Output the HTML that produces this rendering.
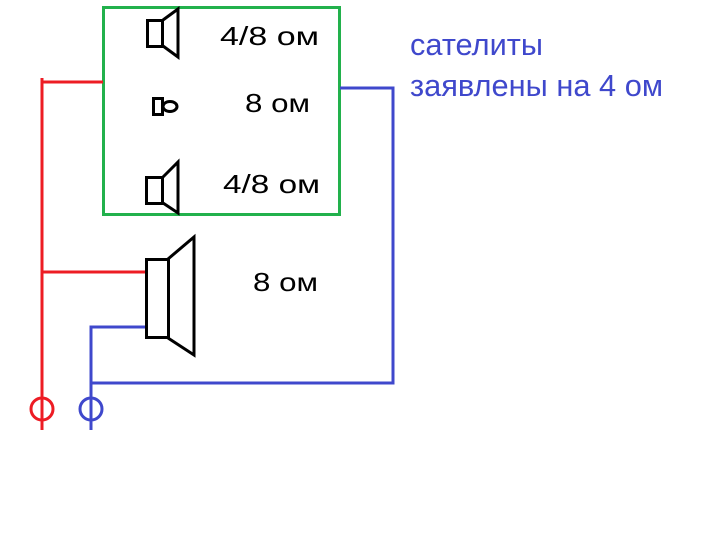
<!DOCTYPE html>
<html><head><meta charset="utf-8"><style>
html,body{margin:0;padding:0;background:#fff;}
svg{display:block;}
</style></head><body>
<svg width="713" height="542" viewBox="0 0 713 542" xmlns="http://www.w3.org/2000/svg">
<rect width="713" height="542" fill="#fff"/>
<!-- green box -->
<rect x="103.5" y="7.5" width="236" height="207" fill="none" stroke="#22B14C" stroke-width="3"/>
<!-- red wires -->
<g stroke="#ED1C24" stroke-width="3" fill="none">
<polyline points="42,78 42,430"/>
<polyline points="42,82 103,82"/>
<polyline points="42,272 146,272"/>
<circle cx="42" cy="409" r="11"/>
</g>
<!-- blue wires -->
<g stroke="#3F48CC" stroke-width="3" fill="none">
<polyline points="340,88 393,88 393,383 91,383"/>
<polyline points="146,327 91,327 91,430"/>
<circle cx="91" cy="409" r="11"/>
</g>
<!-- speakers -->
<g stroke="#000" stroke-width="3" fill="none" stroke-linejoin="miter">
<rect x="147.5" y="20.5" width="15" height="26"/>
<polyline points="163,20 178,9 178,57 163,46"/>
<rect x="153.5" y="98.5" width="9" height="16"/>
<ellipse cx="170" cy="106.5" rx="7" ry="5"/>
<rect x="146.5" y="177.5" width="16" height="26"/>
<polyline points="163,177 178,162 178,213 163,203"/>
<rect x="146.5" y="259.5" width="22" height="78"/>
<polyline points="168,259 194,237 194,355 168,338"/>
</g>
<!-- labels -->
<g font-family="'Liberation Sans', 'DejaVu Sans', sans-serif" fill="#000" font-size="26">
<text x="220" y="45" textLength="99" lengthAdjust="spacingAndGlyphs">4/8 ом</text>
<text x="245" y="112" textLength="65" lengthAdjust="spacingAndGlyphs">8 ом</text>
<text x="223" y="193" textLength="97" lengthAdjust="spacingAndGlyphs">4/8 ом</text>
<text x="253" y="291" textLength="65" lengthAdjust="spacingAndGlyphs">8 ом</text>
</g>
<g font-family="'Liberation Sans', 'DejaVu Sans', sans-serif" fill="#3F48CC" font-size="31">
<text x="410" y="55" textLength="133" lengthAdjust="spacingAndGlyphs">сателиты</text>
<text x="410" y="96" textLength="253" lengthAdjust="spacingAndGlyphs">заявлены на 4 ом</text>
</g>
</svg>
</body></html>
